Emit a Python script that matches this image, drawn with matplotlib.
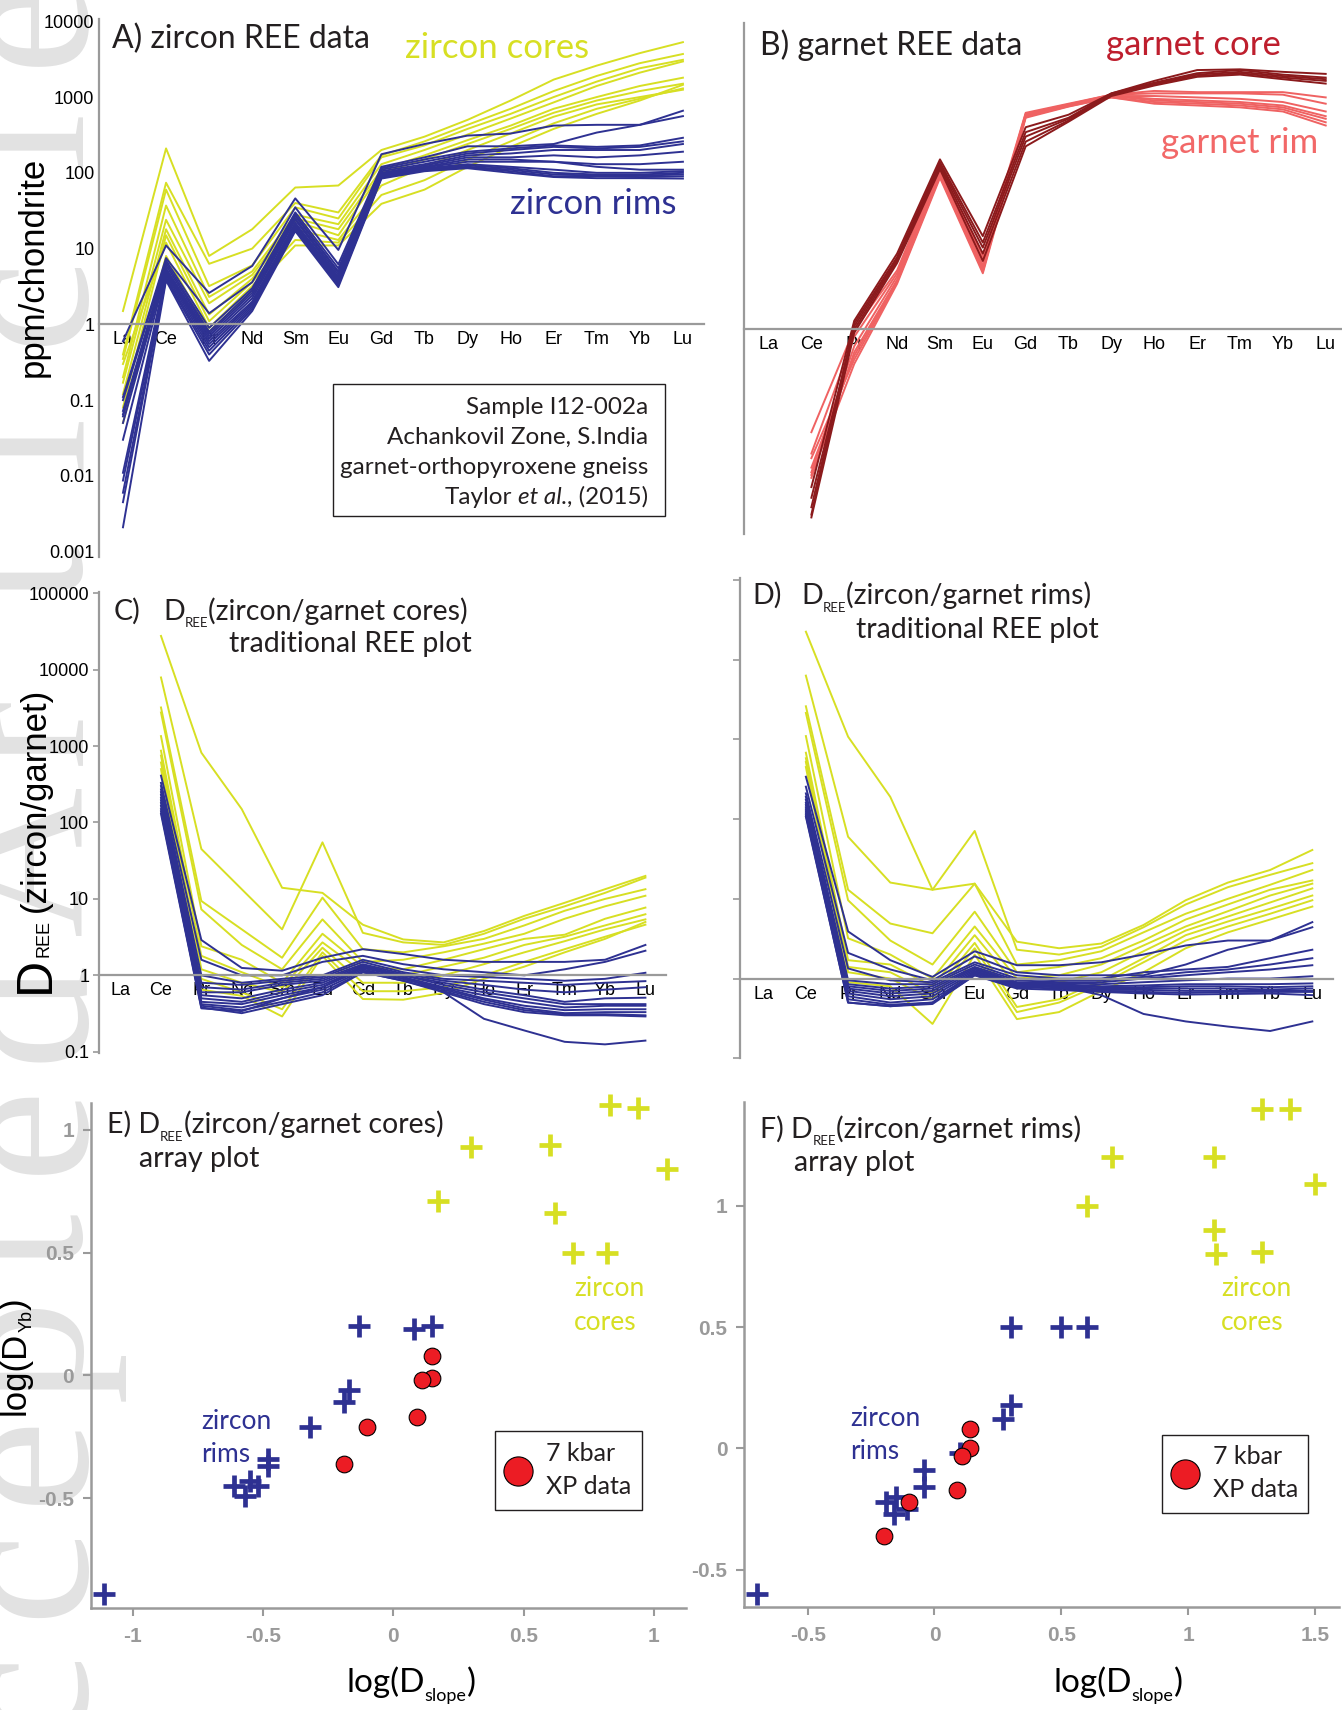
import matplotlib
matplotlib.use('Agg')
import matplotlib.pyplot as plt
from matplotlib.patches import Rectangle
from matplotlib.lines import Line2D
from matplotlib.ticker import NullLocator, FuncFormatter

plt.rcParams['axes.unicode_minus'] = False

ree = ['La', 'Ce', 'Pr', 'Nd', 'Sm', 'Eu', 'Gd', 'Tb', 'Dy', 'Ho', 'Er', 'Tm', 'Yb', 'Lu']

# zircon, ppm/chondrite (La..Lu)
zircon_cores = [
    [1.5, 210, 8.0, 18, 64, 68, 200, 300, 500, 900, 1700, 2600, 3800, 5300],
    [0.4, 74, 6.3, 10, 40, 30, 170, 260, 430, 700, 1200, 1900, 2800, 3700],
    [0.35, 60, 3.2, 6, 35, 25, 160, 230, 380, 600, 1000, 1600, 2400, 3100],
    [0.2, 37, 2.3, 5, 28, 21, 130, 200, 320, 520, 850, 1400, 2100, 2950],
    [0.17, 24, 1.9, 4.5, 25, 18, 110, 170, 270, 420, 700, 1000, 1400, 1800],
    [0.12, 18, 1.35, 4, 23, 15, 100, 150, 240, 380, 620, 900, 1200, 1500],
    [0.08, 15, 1.1, 3.6, 18, 13, 68, 120, 200, 330, 550, 800, 1000, 1250],
    [0.3, 12, 0.9, 3.2, 13, 12, 51, 80, 150, 260, 450, 700, 950, 1300],
    [0.05, 8, 0.8, 2.8, 11, 11, 39, 60, 120, 220, 380, 600, 900, 1450],
]
zircon_rims = [
    [0.6, 11, 2.6, 5.9, 46, 9.6, 176, 240, 310, 330, 420, 430, 430, 560],
    [0.11, 7.5, 1.4, 3.6, 35, 6.2, 120, 160, 224, 224, 240, 340, 430, 660],
    [0.1, 7, 0.9, 3.0, 30, 5.5, 115, 150, 190, 210, 230, 220, 230, 290],
    [0.072, 6.5, 0.8, 2.8, 28, 5, 110, 140, 180, 200, 220, 210, 220, 260],
    [0.065, 6, 0.75, 2.6, 27, 4.8, 105, 130, 170, 180, 200, 200, 200, 240],
    [0.061, 5.5, 0.7, 2.4, 25, 4.5, 100, 125, 160, 160, 170, 160, 170, 190],
    [0.05, 5.2, 0.65, 2.2, 24, 4.2, 98, 120, 150, 150, 140, 130, 130, 140],
    [0.03, 5, 0.6, 2.0, 22, 4.0, 95, 118, 140, 140, 140, 120, 110, 110],
    [0.011, 4.8, 0.55, 1.9, 21, 3.8, 92, 115, 130, 120, 110, 100, 100, 105],
    [0.0087, 4.5, 0.5, 1.8, 20, 3.6, 90, 112, 125, 115, 100, 95, 95, 100],
    [0.006, 4.2, 0.45, 1.7, 19, 3.4, 88, 110, 120, 110, 95, 92, 92, 95],
    [0.0045, 4.0, 0.4, 1.6, 18, 3.3, 86, 108, 118, 105, 90, 90, 88, 90],
    [0.0021, 3.8, 0.33, 1.5, 17, 3.1, 84, 105, 115, 100, 88, 85, 85, 84],
]

# garnet, ppm/chondrite (Ce..Lu)
garnet_core = [
    [0.0083, 1.3, 10, 175, 17, 465, 680, 1300, 1900, 2640, 2700, 2500, 2350],
    [0.0036, 1.2, 9, 160, 14, 400, 620, 1300, 1800, 2400, 2650, 2300, 2100],
    [0.0045, 1.1, 8.5, 150, 12, 350, 600, 1250, 1750, 2300, 2500, 2200, 2000],
    [0.0060, 1.0, 8, 140, 10, 300, 570, 1250, 1700, 2200, 2400, 2100, 1900],
    [0.0033, 0.9, 7.5, 130, 8, 260, 550, 1200, 1650, 2150, 2300, 2000, 1750],
]
garnet_rim = [
    [0.044, 1.0, 6, 140, 9, 720, 950, 1250, 1400, 1350, 1350, 1350, 1150],
    [0.023, 0.8, 5.5, 130, 8, 700, 930, 1250, 1300, 1300, 1300, 1250, 950],
    [0.013, 0.6, 5, 120, 7, 680, 920, 1200, 1200, 1150, 1100, 1000, 750],
    [0.011, 0.5, 4.5, 115, 6.5, 660, 900, 1200, 1100, 1050, 1000, 900, 650],
    [0.015, 0.45, 4.3, 110, 6, 650, 900, 1200, 1050, 1000, 950, 850, 600],
    [0.02, 0.4, 4.2, 105, 5.8, 640, 880, 1150, 1000, 950, 900, 800, 540],
    [0.012, 0.35, 4.0, 100, 5.5, 620, 870, 1150, 950, 900, 850, 750, 490],
]

# D(zircon/garnet core), Ce..Lu
dcore_zc = [
    [27600, 820, 150, 14, 12, 4.6, 2.95, 2.7, 3.8, 6.0, 8.9, 13.4, 20],
    [7900, 45, 13.4, 4.0, 55, 3.6, 2.7, 2.5, 3.5, 5.5, 8.0, 12, 19],
    [3200, 9.4, 4.0, 1.7, 10.4, 2.2, 2.0, 2.4, 3.0, 4.5, 7.0, 10, 13.4],
    [2750, 7.3, 2.5, 1.2, 5.4, 1.5, 1.6, 2.0, 2.6, 3.5, 5.5, 8.0, 11],
    [1350, 2.4, 1.6, 0.8, 3.5, 1.3, 1.2, 1.6, 2.2, 3.0, 3.4, 5.5, 7.7],
    [870, 1.8, 1.1, 0.7, 2.7, 1.1, 1.0, 1.3, 1.7, 2.5, 3.2, 4.5, 6.3],
    [750, 1.2, 0.8, 0.6, 2.3, 0.8, 0.8, 1.0, 1.4, 2.0, 2.8, 4.0, 5.4],
    [610, 0.9, 0.6, 0.36, 2.0, 0.62, 0.62, 0.7, 1.0, 1.5, 2.2, 3.2, 4.6],
    [500, 0.65, 0.54, 0.29, 1.8, 0.49, 0.48, 0.59, 0.9, 1.3, 2.0, 3.0, 5.0],
]
dcore_zr = [
    [410, 2.9, 1.25, 1.15, 1.7, 2.2, 1.9, 1.6, 1.5, 1.5, 1.5, 1.6, 2.5],
    [330, 1.6, 1.0, 1.0, 1.5, 1.8, 1.4, 1.2, 1.1, 1.0, 1.2, 1.5, 2.1],
    [300, 1.0, 0.8, 0.9, 1.0, 1.6, 1.2, 1.0, 0.95, 0.9, 0.85, 0.9, 1.08],
    [270, 0.8, 0.75, 0.85, 0.95, 1.5, 1.1, 0.9, 0.85, 0.8, 0.75, 0.8, 0.84],
    [250, 0.7, 0.65, 0.8, 0.9, 1.4, 1.05, 0.85, 0.75, 0.65, 0.6, 0.65, 0.7],
    [230, 0.6, 0.6, 0.75, 0.85, 1.35, 1.0, 0.8, 0.65, 0.55, 0.45, 0.5, 0.51],
    [210, 0.55, 0.5, 0.65, 0.8, 1.3, 1.0, 0.75, 0.6, 0.5, 0.42, 0.42, 0.42],
    [195, 0.5, 0.45, 0.6, 0.75, 1.25, 0.95, 0.7, 0.55, 0.45, 0.38, 0.4, 0.4],
    [180, 0.45, 0.42, 0.55, 0.7, 1.2, 0.9, 0.68, 0.5, 0.4, 0.35, 0.36, 0.36],
    [165, 0.42, 0.38, 0.5, 0.65, 1.15, 0.9, 0.65, 0.48, 0.37, 0.32, 0.33, 0.33],
    [150, 0.4, 0.35, 0.45, 0.6, 1.1, 0.85, 0.62, 0.45, 0.35, 0.31, 0.31, 0.3],
    [140, 0.38, 0.32, 0.42, 0.55, 1.1, 0.85, 0.6, 0.42, 0.33, 0.3, 0.3, 0.29],
    [130, 0.37, 0.34, 0.5, 0.7, 1.3, 0.95, 0.6, 0.27, 0.19, 0.135, 0.125, 0.14],
]

# D(zircon/garnet rim), Ce..Lu
drim_zc = [
    [22400, 1080, 190, 13, 15.5, 2.9, 2.4, 2.75, 4.7, 9.6, 16, 23, 41],
    [6300, 60, 16, 13, 71, 2.3, 2.0, 2.5, 4.4, 8.5, 14, 20, 28],
    [2600, 13, 4.9, 3.7, 15.5, 1.5, 1.7, 2.2, 3.8, 6.5, 10, 15, 23],
    [2150, 9.6, 3.0, 1.5, 6.9, 1.2, 1.4, 1.8, 3.0, 5.5, 8.5, 13, 17],
    [1100, 3.2, 2.0, 1.0, 4.5, 1.0, 1.1, 1.5, 2.6, 4.5, 7.0, 11, 15.5],
    [680, 1.7, 1.5, 0.8, 3.5, 0.8, 0.9, 1.2, 2.2, 4.0, 6.0, 9, 13.5],
    [580, 1.4, 1.2, 0.65, 2.8, 0.44, 0.55, 0.95, 1.8, 3.5, 5.2, 7.5, 11],
    [520, 1.2, 1.0, 0.55, 2.4, 0.38, 0.5, 0.85, 1.6, 3.0, 4.5, 6.5, 9.6],
    [450, 0.9, 0.8, 0.27, 2.0, 0.31, 0.38, 0.7, 1.2, 2.4, 3.8, 5.5, 8],
]
drim_zr = [
    [340, 3.9, 1.7, 1.05, 2.2, 1.47, 1.47, 1.6, 2.0, 2.6, 3.0, 3.0, 5.1],
    [255, 2.1, 1.3, 0.95, 1.9, 1.2, 1.1, 1.1, 1.1, 1.5, 2.3, 3.0, 4.4],
    [210, 1.34, 0.95, 0.9, 1.6, 1.1, 1.0, 1.0, 1.2, 1.3, 1.4, 1.8, 2.3],
    [190, 0.95, 0.85, 0.85, 1.5, 1.0, 0.95, 0.95, 1.05, 1.2, 1.3, 1.5, 1.8],
    [175, 0.85, 0.75, 0.8, 1.4, 0.95, 0.9, 0.9, 1.0, 1.1, 1.2, 1.3, 1.47],
    [160, 0.8, 0.7, 0.75, 1.35, 0.9, 0.88, 0.85, 0.9, 0.95, 1.0, 1.0, 1.07],
    [150, 0.75, 0.65, 0.7, 1.3, 0.88, 0.85, 0.8, 0.82, 0.85, 0.85, 0.85, 0.87],
    [140, 0.7, 0.6, 0.65, 1.25, 0.85, 0.82, 0.78, 0.78, 0.8, 0.8, 0.78, 0.8],
    [132, 0.65, 0.55, 0.6, 1.2, 0.82, 0.8, 0.75, 0.75, 0.75, 0.75, 0.73, 0.75],
    [125, 0.6, 0.5, 0.55, 1.15, 0.8, 0.78, 0.72, 0.72, 0.7, 0.7, 0.7, 0.7],
    [118, 0.55, 0.47, 0.5, 1.1, 0.78, 0.75, 0.7, 0.68, 0.66, 0.68, 0.68, 0.68],
    [112, 0.5, 0.45, 0.48, 1.1, 0.75, 0.72, 0.68, 0.65, 0.63, 0.64, 0.65, 0.62],
    [107, 0.5, 0.45, 0.5, 1.2, 0.85, 0.8, 0.62, 0.36, 0.29, 0.25, 0.22, 0.29],
]

# array plots: log(D_slope), log(D_Yb)
e_core_x = [0.83, 0.94, 0.30, 0.60, 1.05, 0.17, 0.62, 0.69, 0.82]
e_core_y = [1.10, 1.09, 0.93, 0.94, 0.84, 0.71, 0.66, 0.50, 0.50]
e_rim_x = [-0.13, 0.08, 0.15, -0.17, -0.19, -0.32, -0.48, -0.48, -0.61, -0.57, -0.55, -0.52, -1.11]
e_rim_y = [0.20, 0.19, 0.20, -0.06, -0.11, -0.21, -0.34, -0.37, -0.45, -0.49, -0.43, -0.45, -0.89]
e_xp_x = [0.15, 0.15, 0.11, 0.09, -0.10, -0.19]
e_xp_y = [0.08, -0.01, -0.02, -0.17, -0.21, -0.36]

f_core_x = [1.29, 1.40, 0.70, 1.10, 1.50, 0.60, 1.10, 1.11, 1.29]
f_core_y = [1.40, 1.40, 1.20, 1.20, 1.09, 1.00, 0.90, 0.80, 0.81]
f_rim_x = [0.30, 0.50, 0.60, 0.30, 0.27, 0.10, -0.04, -0.04, -0.19, -0.15, -0.16, -0.11, -0.70]
f_rim_y = [0.50, 0.50, 0.50, 0.18, 0.12, -0.02, -0.09, -0.16, -0.22, -0.20, -0.27, -0.25, -0.60]
f_xp_x = [0.14, 0.14, 0.11, 0.09, -0.10, -0.20]
f_xp_y = [0.08, 0.00, -0.03, -0.17, -0.22, -0.36]

YEL = '#d7df23'
BLUE = '#2e3192'
DKRED = '#8b1a1c'
SALMON = '#ef6262'
RED = '#ec1c24'
GREY = '#9a9a9a'
INK = '#231f20'
MYR = 'Lato'
ARL = 'Liberation Sans'

W, H = 1342, 1710
fig = plt.figure(figsize=(W / 100, H / 100), dpi=100)
renderer = fig.canvas.get_renderer()


def px_axes(l, t, r, b):
    ax = fig.add_axes([l / W, 1 - b / H, (r - l) / W, (b - t) / H])
    ax.patch.set_alpha(0)
    return ax


def ptext(x, y, s, **kw):
    kw.setdefault('va', 'center')
    kw.setdefault('family', MYR)
    return fig.text(x / W, 1 - y / H, s, **kw)


def runs(x, y, pieces, ha='left', rotate=False, **kw):
    """Lay text pieces end to end from a baseline point given in pixels.
    A piece is (text, size, drop_px, extra_kwargs) or a number for a gap."""
    items = []
    for p in pieces:
        if isinstance(p, (int, float)):
            items.append((None, 0, p))
            continue
        s, fs, drop, extra = p
        opts = dict(kw)
        opts.update(extra)
        opts.setdefault('family', MYR)
        t = fig.text(0, 0, s, fontsize=fs, va='baseline', ha='left',
                     rotation=90 if rotate else 0, rotation_mode='anchor', **opts)
        bb = t.get_window_extent(renderer)
        items.append((t, drop, bb.height if rotate else bb.width))
    total = sum(i[2] for i in items)
    pos = -{'left': 0, 'center': total / 2, 'right': total}[ha]
    for t, drop, w in items:
        if t is not None:
            if rotate:
                t.set_position(((x + drop) / W, 1 - (y - pos) / H))
            else:
                t.set_position(((x + pos) / W, 1 - (y + drop) / H))
        pos += w


# "Accepted Article" stamp down the left margin
wm_chars = 'AcceptedArticle'
wm_pos = [1810, 1694, 1572, 1458, 1349, 1240, 1128, 1010, 860, 730, 572, 442, 300, 137, 20]
for ch, yy in zip(wm_chars, wm_pos):
    fig.text(80 / W, 1 - yy / H, ch, rotation=90, rotation_mode='anchor',
             ha='center', va='baseline', fontsize=150, family='Liberation Serif',
             color='#e2e2e2', zorder=-5)


def ree_panel(ax, xlim, ylog, yticks=None, ticklen=0):
    ax.set_yscale('log')
    ax.set_xlim(*xlim)
    ax.set_ylim(10 ** ylog[0], 10 ** ylog[1])
    for s in ('top', 'right'):
        ax.spines[s].set_visible(False)
    ax.spines['bottom'].set_position(('data', 1))
    for s in ('left', 'bottom'):
        ax.spines[s].set_color(GREY)
        ax.spines[s].set_linewidth(1.6)
    ax.set_xticks(range(14))
    ax.set_xticklabels(ree, fontsize=13, family=ARL)
    ax.tick_params(axis='x', length=0, pad=5)
    ax.yaxis.set_minor_locator(NullLocator())
    if yticks is None:
        ax.set_yticks([])
    else:
        ax.set_yticks(yticks[0])
        ax.set_yticklabels(yticks[1], fontsize=13, family=ARL)
    ax.tick_params(axis='y', length=ticklen, width=1.2, color=GREY, pad=3)


# A) zircon
axA = px_axes(98.6, 19, 703.6, 557)
for v in zircon_cores:
    axA.plot(range(14), v, color=YEL, lw=1.4)
for v in zircon_rims:
    axA.plot(range(14), v, color=BLUE, lw=1.4)
ree_panel(axA, (-0.566, 13.48), (-3.07, 4.03),
          ([1e-3, 1e-2, 0.1, 1, 10, 100, 1000, 1e4],
           ['0.001', '0.01', '0.1', '1', '10', '100', '1000', '10000']))
axA.set_ylabel('ppm/chondrite', fontsize=25, family=ARL)
axA.yaxis.set_label_coords((50 - 98.6) / 605, (557 - 267) / 538)

# B) garnet
axB = px_axes(744.3, 23.2, 1342, 534)
for v in garnet_rim:
    axB.plot(range(1, 14), v, color=SALMON, lw=1.4)
for v in garnet_core:
    axB.plot(range(1, 14), v, color=DKRED, lw=1.4)
ree_panel(axB, (-0.565, 13.38), (-2.70, 4.04))

# C) D(zircon/garnet core)
dlab = (
    [0.1, 1, 10, 100, 1000, 1e4, 1e5],
    ['0.1', '1', '10', '100', '1000', '10000', '100000'])
axC = px_axes(98.9, 591.7, 665.6, 1053.3)
for v in dcore_zc:
    axC.plot(range(1, 14), v, color=YEL, lw=1.4)
for v in dcore_zr:
    axC.plot(range(1, 14), v, color=BLUE, lw=1.4)
ree_panel(axC, (-0.538, 13.5), (-1.02, 5.02), dlab, ticklen=4)
runs(49, 840, [('D', 36, 0, {}), ('REE', 13, 0, {}), 8, ('(zircon/garnet)', 25, -4, {})],
     ha='center', rotate=True, family=ARL, color='k')

# D) D(zircon/garnet rim)
axD = px_axes(739.8, 578.3, 1333, 1058.3)
for v in drim_zc:
    axD.plot(range(1, 14), v, color=YEL, lw=1.4)
for v in drim_zr:
    axD.plot(range(1, 14), v, color=BLUE, lw=1.4)
ree_panel(axD, (-0.566, 13.49), (-1.0, 5.02), (dlab[0], [''] * 7), ticklen=5)
axD.tick_params(axis='y', direction='out')


def array_panel(ax, xlim, ylim, xt, yt):
    ax.set_xlim(*xlim)
    ax.set_ylim(*ylim)
    for s in ('top', 'right'):
        ax.spines[s].set_visible(False)
    for s in ('left', 'bottom'):
        ax.spines[s].set_color(GREY)
        ax.spines[s].set_linewidth(1.8)
    ax.set_xticks(xt)
    ax.set_yticks(yt)
    fmt = FuncFormatter(lambda v, p: '%g' % v)
    ax.xaxis.set_major_formatter(fmt)
    ax.yaxis.set_major_formatter(fmt)
    ax.tick_params(length=6, width=1.5, color=GREY, labelcolor=GREY, labelsize=15)
    ax.tick_params(axis='x', pad=8)
    ax.tick_params(axis='y', pad=6)
    for lab in ax.get_xticklabels() + ax.get_yticklabels():
        lab.set_fontweight('bold')
        lab.set_family(ARL)


cross = dict(ls='none', marker='+', ms=16, mew=3.4, clip_on=False)
dots = dict(ls='none', marker='o', ms=12, mfc=RED, mec='k', mew=0.8, clip_on=False)

axE = px_axes(90.6, 1102.7, 686, 1608)
axE.plot(e_core_x, e_core_y, color=YEL, **cross)
axE.plot(e_rim_x, e_rim_y, color=BLUE, **cross)
axE.plot(e_xp_x, e_xp_y, **dots)
array_panel(axE, (-1.161, 1.123), (-0.948, 1.111), [-1, -0.5, 0, 0.5, 1], [-0.5, 0, 0.5, 1])

axF = px_axes(744.2, 1101.8, 1339.4, 1606.7)
axF.plot(f_core_x, f_core_y, color=YEL, **cross)
axF.plot(f_rim_x, f_rim_y, color=BLUE, **cross)
axF.plot(f_xp_x, f_xp_y, **dots)
array_panel(axF, (-0.750, 1.596), (-0.653, 1.429), [-0.5, 0, 0.5, 1, 1.5], [-0.5, 0, 0.5, 1])

# axis titles for the array plots
for cx in (411, 1118):
    runs(cx, 1692, [('log(D', 24, 0, {}), ('slope', 13, 9, {}), (')', 24, 0, {})],
         ha='center', color='k')
runs(25, 1357, [('log(D', 25, 0, {}), ('Yb', 13, 7, {}), (')', 25, 0, {})],
     ha='center', rotate=True, family=ARL, color='k')

# panel titles
ptext(112, 39, 'A) zircon REE data', fontsize=23, color=INK)
ptext(405, 48, 'zircon cores', fontsize=25, color=YEL)
ptext(510, 204, 'zircon rims', fontsize=25, color=BLUE)
ptext(760, 45, 'B) garnet REE data', fontsize=23, color=INK)
ptext(1106, 45, 'garnet core', fontsize=25, color='#be1e2d')
ptext(1161, 143, 'garnet rim', fontsize=25, color='#f26868')

T = 20.5
S = 9.5
runs(114, 620, [('C)', T, 0, {})], color=INK)
runs(163, 620, [('D', T, 0, {}), ('REE', S, 7, {}), ('(zircon/garnet cores)', T, 0, {})], color=INK)
runs(229, 652, [('traditional REE plot', T, 0, {})], color=INK)
runs(752, 604, [('D)', T, 0, {})], color=INK)
runs(801, 604, [('D', T, 0, {}), ('REE', S, 8, {}), ('(zircon/garnet rims)', T, 0, {})], color=INK)
runs(856, 638, [('traditional REE plot', T, 0, {})], color=INK)

runs(107, 1133, [('E) D', T, 0, {}), ('REE', S, 8, {}), ('(zircon/garnet cores)', T, 0, {})], color=INK)
runs(139, 1167, [('array plot', T, 0, {})], color=INK)
runs(760, 1138, [('F) D', T, 0, {}), ('REE', S, 7, {}), ('(zircon/garnet rims)', T, 0, {})], color=INK)
runs(794, 1171, [('array plot', T, 0, {})], color=INK)

for x0, y0 in ((574, 1289), (1221, 1289)):
    ptext(x0, y0, 'zircon', fontsize=19, color=YEL)
    ptext(x0, y0 + 33, 'cores', fontsize=19, color=YEL)
for x0, y0 in ((201, 1421), (850, 1418)):
    ptext(x0, y0, 'zircon', fontsize=19, color=BLUE)
    ptext(x0, y0 + 33, 'rims', fontsize=19, color=BLUE)

# sample box in panel A
fig.add_artist(Rectangle((332.5 / W, 1 - 515.6 / H), 332.5 / W, 131.9 / H,
                         transform=fig.transFigure, fill=False, ec=INK, lw=1.0))
for yy, s in zip((414, 444, 474), ['Sample I12-002a', 'Achankovil Zone, S.India',
                                   'garnet-orthopyroxene gneiss']):
    runs(648, yy, [(s, 17.5, 0, {})], ha='right', color=INK)
runs(648, 504, [('Taylor', 17.5, 0, {}), 5, ('et al.', 17.5, 0, {'style': 'italic'}),
                (', (2015)', 17.5, 0, {})], ha='right', color=INK)

# "7 kbar XP data" keys
for bx0, by0, bx1, by1, cx, cy, tx in ((494.6, 1431.2, 641.5, 1510, 518, 1471, 545.5),
                                       (1161.6, 1434.5, 1308.1, 1512.9, 1185, 1474, 1212.7)):
    fig.add_artist(Rectangle((bx0 / W, 1 - by1 / H), (bx1 - bx0) / W, (by1 - by0) / H,
                             transform=fig.transFigure, fill=False, ec=INK, lw=1.0))
    fig.add_artist(Line2D([cx / W], [1 - cy / H], transform=fig.transFigure,
                          marker='o', ms=21, mfc=RED, mec='k', mew=0.8, ls='none'))
    ptext(tx, cy - 18, '7 kbar', fontsize=18, color=INK)
    ptext(tx, cy + 15, 'XP data', fontsize=18, color=INK)

fig.savefig('out.png', dpi=100)
